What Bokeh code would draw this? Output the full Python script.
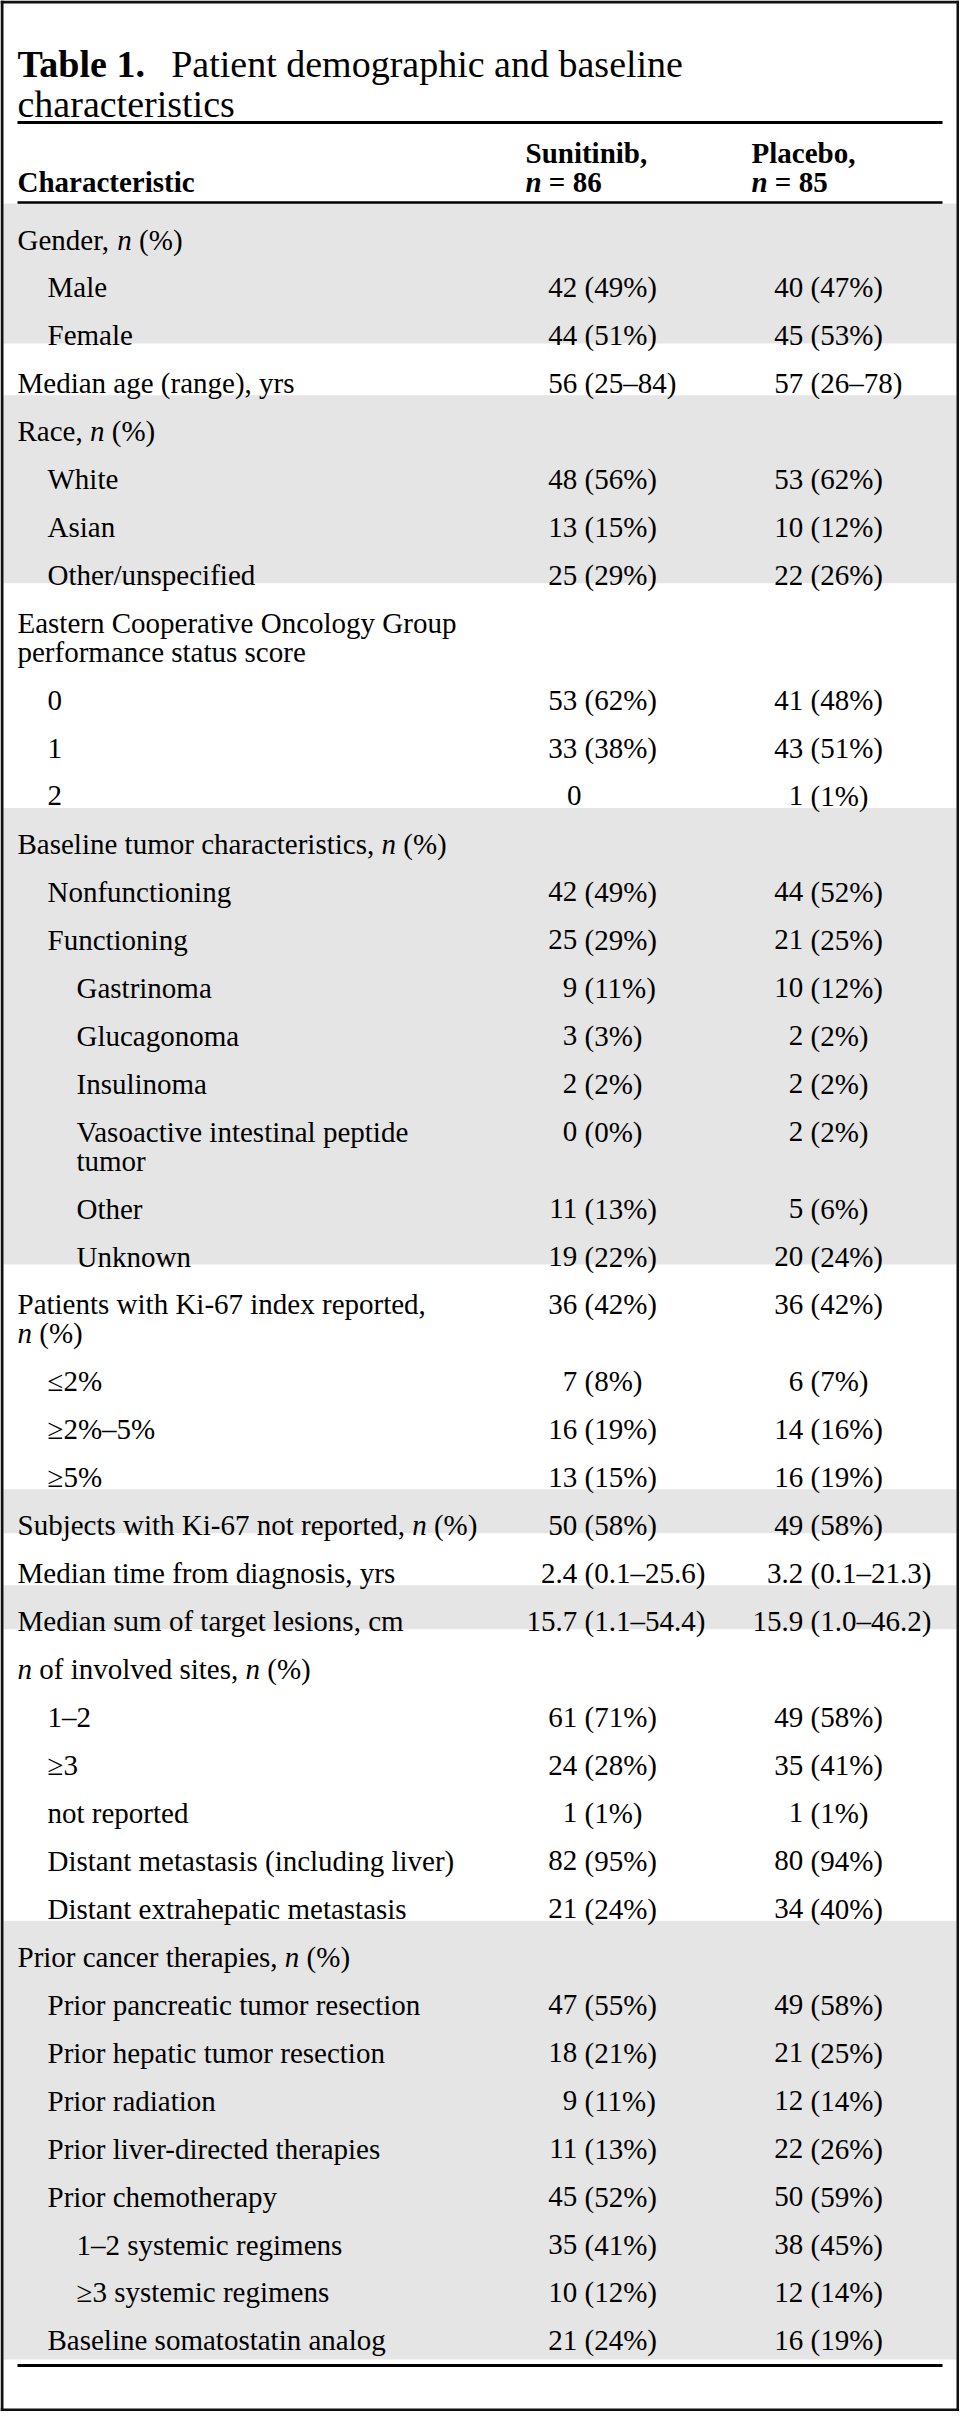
from bokeh.plotting import figure
from bokeh.models import Range1d, ColumnDataSource
from bokeh.core.properties import value
from bokeh.embed import file_html
from bokeh.resources import INLINE

# ---------------- data ----------------
title_bold = "Table 1."
title_lines = ["Patient demographic and baseline", "characteristics"]
header_label = "Characteristic"
arm_names = ["Sunitinib,", "Placebo,"]
arm_ns = ["*n* = 86", "*n* = 85"]

characteristics = [
    "Gender, *n* (%)", "Male", "Female",
    "Median age (range), yrs",
    "Race, *n* (%)", "White", "Asian", "Other/unspecified",
    "Eastern Cooperative Oncology Group|performance status score", "0", "1", "2",
    "Baseline tumor characteristics, *n* (%)", "Nonfunctioning", "Functioning",
    "Gastrinoma", "Glucagonoma", "Insulinoma",
    "Vasoactive intestinal peptide|tumor", "Other", "Unknown",
    "Patients with Ki-67 index reported,|*n* (%)", "\u22642%", "\u22652%\u20135%", "\u22655%",
    "Subjects with Ki-67 not reported, *n* (%)",
    "Median time from diagnosis, yrs",
    "Median sum of target lesions, cm",
    "*n* of involved sites, *n* (%)", "1\u20132", "\u22653", "not reported",
    "Distant metastasis (including liver)", "Distant extrahepatic metastasis",
    "Prior cancer therapies, *n* (%)", "Prior pancreatic tumor resection",
    "Prior hepatic tumor resection", "Prior radiation", "Prior liver-directed therapies",
    "Prior chemotherapy", "1\u20132 systemic regimens", "\u22653 systemic regimens",
    "Baseline somatostatin analog",
]
levels = [0, 1, 1,
          0,
          0, 1, 1, 1,
          0, 1, 1, 1,
          0, 1, 1, 2, 2, 2, 2, 2, 2,
          0, 1, 1, 1,
          0,
          0,
          0,
          0, 1, 1, 1, 1, 1,
          0, 1, 1, 1, 1, 1, 2, 2, 1]
sunitinib = ["", "42 (49%)", "44 (51%)",
             "56 (25\u201384)",
             "", "48 (56%)", "13 (15%)", "25 (29%)",
             "", "53 (62%)", "33 (38%)", "0",
             "", "42 (49%)", "25 (29%)", "9 (11%)", "3 (3%)", "2 (2%)", "0 (0%)", "11 (13%)", "19 (22%)",
             "36 (42%)", "7 (8%)", "16 (19%)", "13 (15%)",
             "50 (58%)",
             "2.4 (0.1\u201325.6)",
             "15.7 (1.1\u201354.4)",
             "", "61 (71%)", "24 (28%)", "1 (1%)", "82 (95%)", "21 (24%)",
             "", "47 (55%)", "18 (21%)", "9 (11%)", "11 (13%)", "45 (52%)", "35 (41%)", "10 (12%)", "21 (24%)"]
placebo = ["", "40 (47%)", "45 (53%)",
           "57 (26\u201378)",
           "", "53 (62%)", "10 (12%)", "22 (26%)",
           "", "41 (48%)", "43 (51%)", "1 (1%)",
           "", "44 (52%)", "21 (25%)", "10 (12%)", "2 (2%)", "2 (2%)", "2 (2%)", "5 (6%)", "20 (24%)",
           "36 (42%)", "6 (7%)", "14 (16%)", "16 (19%)",
           "49 (58%)",
           "3.2 (0.1\u201321.3)",
           "15.9 (1.0\u201346.2)",
           "", "49 (58%)", "35 (41%)", "1 (1%)", "80 (94%)", "34 (40%)",
           "", "49 (58%)", "21 (25%)", "12 (14%)", "22 (26%)", "50 (59%)", "38 (45%)", "12 (14%)", "16 (19%)"]
group_sizes = [3, 1, 4, 4, 9, 4, 1, 1, 1, 6, 9]
group_shaded = [True, False, True, False, True, False, True, False, True, False, True]

# ---------------- style / layout ----------------
FONT = "Liberation Serif"
TITLE_PX = 38
BODY_PX = 29
GRAY = "#e5e5e5"
W, H = 959, 2411
X0 = 25
INDENT = [25, 55, 84]
COL_PAREN = [592, 818]
COL_HEAD = [533, 759]
RULE_X = (25, 950)
FIRST_BASE = 247
PITCH = 47.95
EXTRA_LINE = 29

REG = {}
for ch, w in zip("abcdefghijklmnopqrstuvwxyz",
                 [.444, .5, .444, .5, .444, .333, .5, .5, .278, .278, .5, .278, .778, .5, .5, .5, .5, .333, .389, .278, .5, .5, .722, .5, .5, .444]):
    REG[ch] = w
for ch, w in zip("ABCDEFGHIJKLMNOPQRSTUVWXYZ",
                 [.722, .667, .667, .722, .611, .556, .722, .722, .333, .389, .722, .611, .889, .722, .722, .556, .722, .667, .556, .611, .722, .722, .944, .722, .722, .611]):
    REG[ch] = w
for ch in "0123456789":
    REG[ch] = .5
REG.update({" ": .25, ",": .25, ".": .25, "-": .333, "(": .333, ")": .333, "%": .833,
            "/": .278, "=": .564, "\u2013": .5, "\u2264": .549, "\u2265": .549})
ITAL = dict(REG)
BOLD = dict(REG)
BOLD.update({"T": .667, "b": .556, "a": .5, "l": .278, "e": .444, "=": .57, "u": .556,
             "n": .556, "t": .333, "P": .611, "h": .556, "r": .444, "C": .722})
BOLDITAL = dict(BOLD)
BOLDITAL.update({"n": .556})


def tw(s, table, size):
    return sum(table.get(c, .5) for c in s) * size


p = figure(width=W, height=H, x_range=Range1d(8, 8 + W), y_range=Range1d(8 + H, 8),
           output_backend="svg", toolbar_location=None, min_border=0, title=None,
           x_axis_location=None, y_axis_location=None)
p.xgrid.visible = False
p.ygrid.visible = False
p.outline_line_color = None
p.background_fill_color = "white"
p.border_fill_color = "white"

texts = {}


def add_text(style, align, size, x, y, t):
    key = (style, align, size)
    d = texts.setdefault(key, dict(x=[], y=[], t=[]))
    d["x"].append(x)
    d["y"].append(y)
    d["t"].append(t)


def rich(x, y, markup, size, bold=False):
    parts = markup.split("*")
    for k, seg in enumerate(parts):
        italic = (k % 2 == 1)
        if bold:
            style, table = ("bold italic", BOLDITAL) if italic else ("bold", BOLD)
        else:
            style, table = ("italic", ITAL) if italic else ("normal", REG)
        lead = len(seg) - len(seg.lstrip(" "))
        x += lead * table[" "] * size
        core = seg.strip(" ")
        if core:
            add_text(style, "left", size, x, y, core)
            x += tw(core, table, size)
        trail = len(seg) - len(seg.rstrip(" ")) if seg.strip(" ") else 0
        x += trail * table[" "] * size


# ---- row positions ----
baselines = []
nlines = []
yy = FIRST_BASE
for lab in characteristics:
    n = lab.count("|") + 1
    baselines.append(yy)
    nlines.append(n)
    yy += PITCH + EXTRA_LINE * (n - 1)

# ---- shaded bands ----
band = dict(top=[], bottom=[])
start = 0
for gi, size in enumerate(group_sizes):
    last = start + size - 1
    top = baselines[start] - 36
    bottom = baselines[last] + EXTRA_LINE * (nlines[last] - 1) + 8
    if last == len(characteristics) - 1:
        bottom += 11
    if group_shaded[gi]:
        band["top"].append(top)
        band["bottom"].append(bottom)
    start += size
p.quad(left=11, right=8 + W - 3, top="top", bottom="bottom", source=ColumnDataSource(band),
       fill_color=GRAY, line_color=None)

# ---- title ----
add_text("bold", "left", TITLE_PX, X0, 71, title_bold)
add_text("normal", "left", TITLE_PX, X0 + tw(title_bold, BOLD, TITLE_PX) + 0.6 * TITLE_PX, 71, title_lines[0])
add_text("normal", "left", TITLE_PX, X0, 111, title_lines[1])

# ---- header ----
add_text("bold", "left", BODY_PX, X0, 189, header_label)
for j in range(2):
    add_text("bold", "left", BODY_PX, COL_HEAD[j], 160, arm_names[j])
    rich(COL_HEAD[j], 189, arm_ns[j], BODY_PX, bold=True)

# ---- body ----
for i, lab in enumerate(characteristics):
    for li, line in enumerate(lab.split("|")):
        rich(INDENT[levels[i]], baselines[i] + EXTRA_LINE * li, line, BODY_PX)
    for j, col in enumerate([sunitinib, placebo]):
        v = col[i]
        if not v:
            continue
        if " (" in v:
            num, rest = v.split(" (", 1)
            add_text("normal", "right", BODY_PX, COL_PAREN[j] - 0.25 * BODY_PX, baselines[i], num)
            add_text("normal", "left", BODY_PX, COL_PAREN[j], baselines[i], "(" + rest)
        else:
            add_text("normal", "right", BODY_PX, COL_PAREN[j] - 0.1 * BODY_PX, baselines[i], v)

for (style, align, size), d in texts.items():
    p.text(x="x", y="y", text="t", source=ColumnDataSource(d),
           text_font=value(FONT), text_font_size=value(f"{size}px"),
           text_font_style=style, text_align=align, text_baseline="alphabetic",
           text_color="black")

# ---- rules (thin filled rectangles) ----
rule_y = [130, 210, 2373]
rule_w = [3, 2.5, 3]
rules = dict(left=[RULE_X[0]] * 3, right=[RULE_X[1]] * 3,
             top=[y - w / 2 for y, w in zip(rule_y, rule_w)],
             bottom=[y + w / 2 for y, w in zip(rule_y, rule_w)])
p.quad(left="left", right="right", top="top", bottom="bottom", source=ColumnDataSource(rules),
       fill_color="black", line_color=None)

# ---- outer frame ----
p.quad(left=[8, 8 + W - 3, 8, 8], right=[11, 8 + W, 8 + W, 8 + W],
       top=[8, 8, 8, 8 + H - 3], bottom=[8 + H, 8 + H, 11, 8 + H],
       fill_color="#111111", line_color=None)

open("out.html", "w").write(file_html(p, INLINE))
